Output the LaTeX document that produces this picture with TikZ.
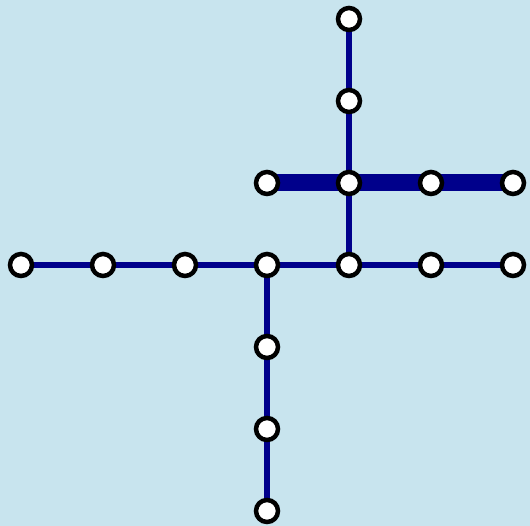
\documentclass[tikz,border=0pt]{standalone}
\definecolor{bg}{HTML}{C8E4EE}
\definecolor{edge}{HTML}{00008B}
\tikzset{
  stn/.style={circle,draw=black,fill=white,line width=4.5pt,minimum size=22pt,inner sep=0pt},
  thin/.style={draw=edge,line width=5.5pt},
  thick/.style={draw=edge,line width=17pt}
}
\begin{document}
\begin{tikzpicture}[x=1pt,y=1pt]
\fill[bg] (0,0) rectangle (530,526);
\useasboundingbox (0,0) rectangle (530,526);
% row y=265
\foreach \n/\x in {a1/21,a2/103,a3/185,a4/267,a5/349,a6/431,a7/513}
  \coordinate (\n) at (\x,261);
\coordinate (c1) at (349,507);
\coordinate (c2) at (349,425);
\coordinate (c3) at (349,343);
\coordinate (b1) at (267,343);
\coordinate (b3) at (431,343);
\coordinate (b4) at (513,343);
\coordinate (d1) at (267,179);
\coordinate (d2) at (267,97);
\coordinate (d3) at (267,15);
% edges
\draw[thin] (a1) -- (a2) -- (a3) -- (a4) -- (a5) -- (a6) -- (a7);
\draw[thin] (c1) -- (c2) -- (c3) -- (a5);
\draw[thin] (a4) -- (d1) -- (d2) -- (d3);
\draw[thick] (b1) -- (c3) -- (b3) -- (b4);
% stations
\foreach \n in {a1,a2,a3,a4,a5,a6,a7,c1,c2,c3,b1,b3,b4,d1,d2,d3}
  \node[stn] (s\n) at (\n) {};
\end{tikzpicture}
\end{document}
